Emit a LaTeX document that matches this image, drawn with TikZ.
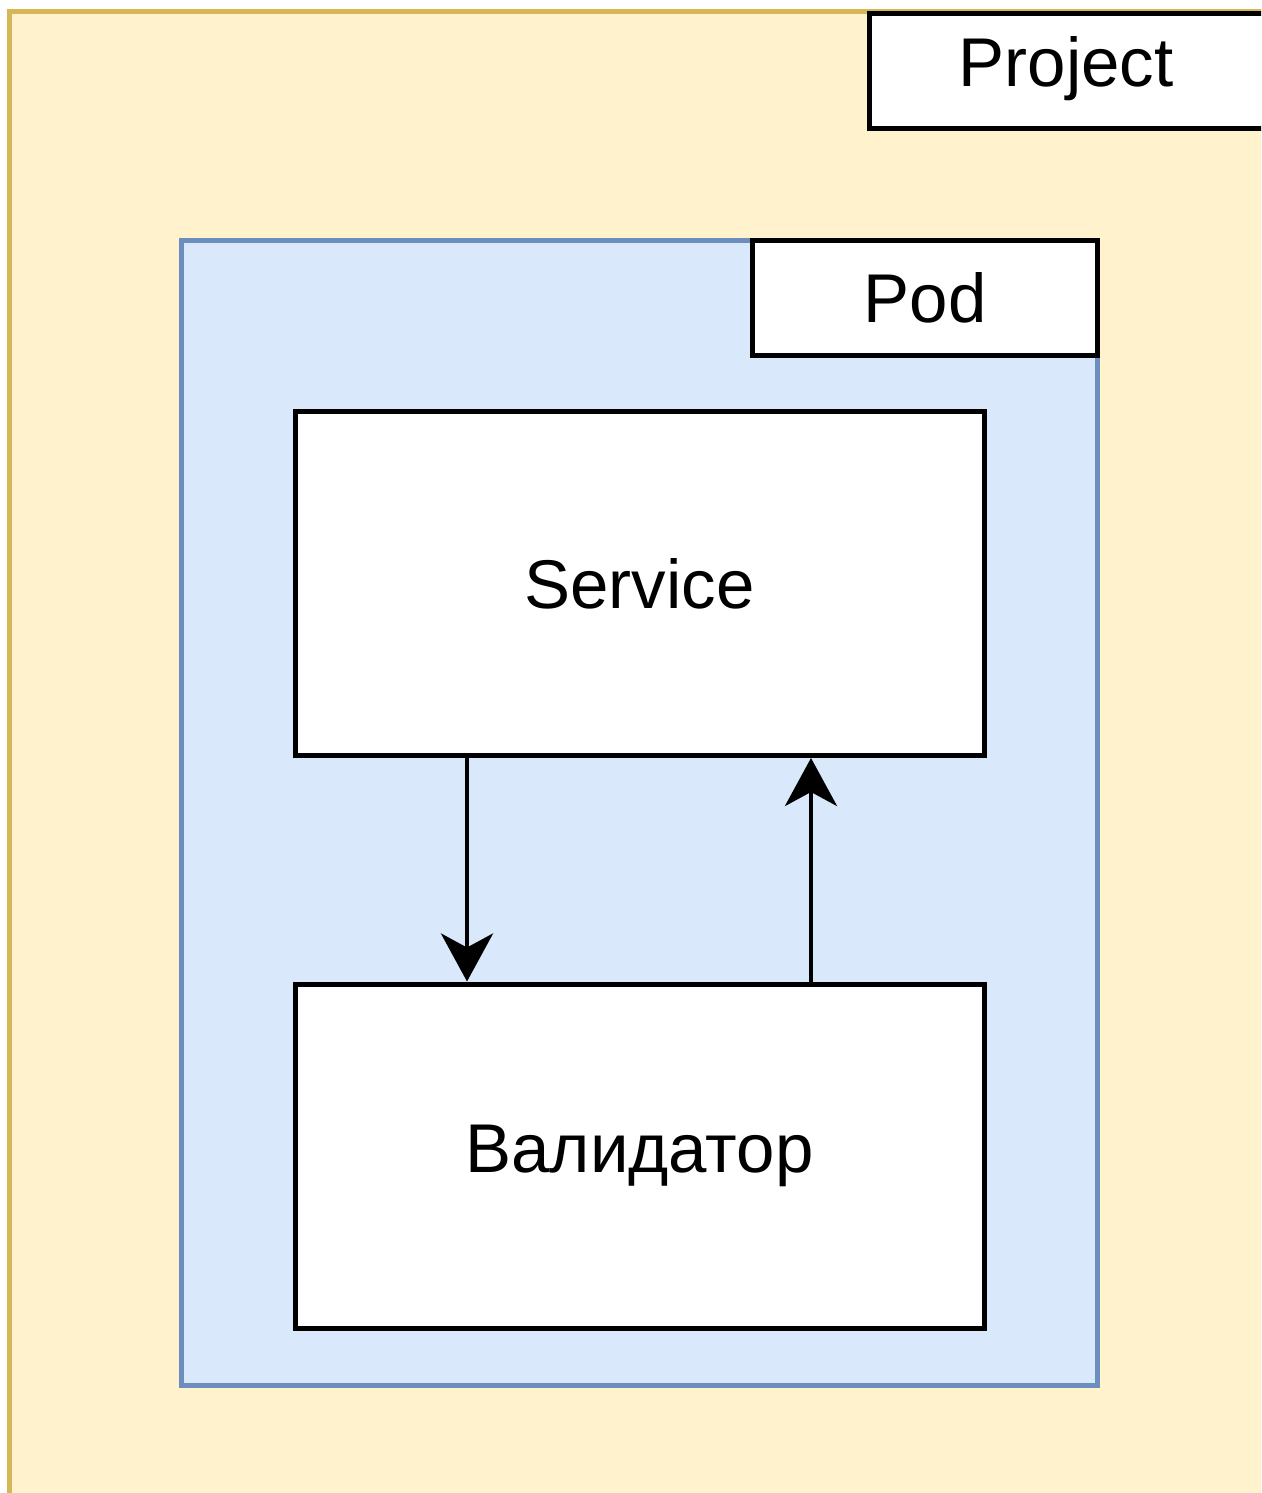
\documentclass[tikz,border=0pt]{standalone}
\usepackage{fontspec}
\setmainfont{Liberation Sans}
\usetikzlibrary{arrows.meta}
\definecolor{projfill}{HTML}{FFF2CC}
\definecolor{projline}{HTML}{D6B656}
\definecolor{podfill}{HTML}{DAE8FC}
\definecolor{podline}{HTML}{6C8EBF}
\tikzset{
  labelfont/.style={font=\fontsize{69}{74}\selectfont},
  box/.style={draw=black, line width=5pt, fill=white, inner sep=0pt, labelfont},
  flow/.style={line width=4.5pt, -{Stealth[length=48pt, width=52pt, inset=14pt]}},
}
\begin{document}
\begin{tikzpicture}[x=1pt, y=-1pt]
  \useasboundingbox (0,0) rectangle (1261,1493);
  \clip (0,0) rectangle (1261,1493);
  % Project frame
  \draw[projline, fill=projfill, line width=5pt] (9.5,11.5) rectangle (1320,1560);
  \node[box, minimum width=400pt, minimum height=115pt, anchor=north west] (projlabel) at (867,11) {};
  \node[labelfont] (projtext) at (1066,69) {Project};
  % Pod frame
  \draw[podline, fill=podfill, line width=5pt] (181,240) rectangle (1097,1385);
  \node[box, minimum width=345pt, minimum height=115pt] (podlabel) at (925,297.5) {Pod};
  % Inner components
  \node[box, minimum width=689pt, minimum height=344pt] (service) at (639.5,583.5) {Service};
  \node[box, minimum width=689pt, minimum height=344pt] (validator) at (639.5,1156) {Валидатор};
  % Request and response
  \draw[flow] (service.south -| 467,0) -- (validator.north -| 467,0);
  \draw[flow] (validator.north -| 811,0) -- (service.south -| 811,0);
\end{tikzpicture}
\end{document}
